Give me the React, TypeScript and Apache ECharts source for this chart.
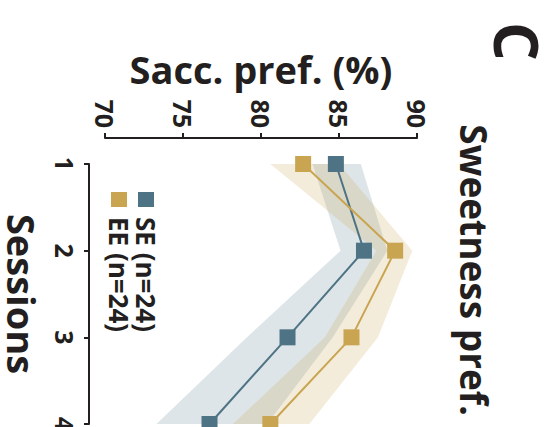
import React, { useEffect, useRef } from "react";
import * as echarts from "echarts";

const sessions = ["1", "2", "3", "4"];
const seMean = [84.8, 86.6, 81.7, 76.7];
const seLower = [83.3, 85.1, 79.1, 73.3];
const seUpper = [86.4, 88.1, 84.6, 80.4];
const eeMean = [82.7, 88.6, 85.8, 80.6];
const eeLower = [80.6, 87.4, 84.1, 78.2];
const eeUpper = [85.0, 89.7, 87.5, 83.1];
const yTicks = [70, 75, 80, 85, 90];
const seName = "SE (n=24)";
const eeName = "EE (n=24)";

const BLUE = "#4d7385";
const GOLD = "#c9a552";
const INK = "#231f20";
const FONT = "Open Sans";

const W = 427;
const H = 558;

export default function App() {
  const ref = useRef<HTMLDivElement>(null);
  useEffect(() => {
    if (!ref.current) return;
    const chart = echarts.init(ref.current, undefined, { renderer: "svg", width: W, height: H });
    const diff = (u: number[], l: number[]) => u.map((v, i) => +(v - l[i]).toFixed(3));
    const bandBase = (stack: string, data: number[]) => ({
      type: "line",
      stack,
      data,
      symbol: "none",
      silent: true,
      lineStyle: { opacity: 0 },
      z: 1,
    });
    const band = (stack: string, data: number[], color: string) => ({
      type: "line",
      stack,
      data,
      symbol: "none",
      silent: true,
      lineStyle: { opacity: 0 },
      areaStyle: { color, opacity: 1 },
      z: 1,
    });
    const legendBase = {
      orient: "vertical",
      left: 187,
      itemWidth: 15,
      itemHeight: 16,
      icon: "rect",
      textStyle: { fontSize: 26, fontWeight: "bold", color: INK, padding: [0, 0, 0, 5], fontFamily: FONT },
    };
    chart.setOption({
      animation: false,
      backgroundColor: "#ffffff",
      textStyle: { fontFamily: FONT },
      grid: { left: 164, right: 3, top: 141, bottom: 105, containLabel: false, outerBoundsMode: "none" },
      xAxis: {
        type: "category",
        data: sessions,
        boundaryGap: false,
        offset: 16,
        name: "Sessions",
        nameLocation: "middle",
        nameGap: 54,
        nameTextStyle: { fontSize: 38, fontWeight: "bold", color: INK, fontFamily: FONT, lineHeight: 26 },
        axisLine: { lineStyle: { color: INK, width: 2 } },
        axisTick: { length: 5, lineStyle: { color: INK, width: 2 } },
        axisLabel: { fontSize: 25, fontWeight: "bold", color: INK, margin: 12, fontFamily: FONT },
        splitLine: { show: false },
      },
      yAxis: {
        type: "value",
        min: yTicks[0],
        max: yTicks[yTicks.length - 1],
        interval: yTicks[1] - yTicks[0],
        offset: 26,
        name: "Sacc. pref. (%)",
        nameLocation: "middle",
        nameRotate: 90,
        nameGap: 50,
        nameTextStyle: { fontSize: 38, fontWeight: "bold", color: INK, fontFamily: FONT },
        axisLine: { show: true, lineStyle: { color: INK, width: 2 } },
        axisTick: { show: true, length: 5, lineStyle: { color: INK, width: 2 } },
        axisLabel: { fontSize: 25, fontWeight: "bold", color: INK, margin: 10, fontFamily: FONT },
        splitLine: { show: false },
      },
      legend: [
        { ...legendBase, top: 394, data: [seName] },
        { ...legendBase, top: 421, data: [eeName] },
      ],
      graphic: [
        {
          type: "text",
          x: 22,
          y: 41,
          style: { text: "C", font: `bold 61px "${FONT}"`, fill: INK, textVerticalAlign: "middle" },
        },
        {
          type: "text",
          x: 270,
          y: 84,
          style: {
            text: "Sweetness pref.",
            font: `bold 37px "${FONT}"`,
            fill: INK,
            textAlign: "center",
            textVerticalAlign: "middle",
          },
        },
      ],
      series: [
        bandBase("seBand", seLower),
        band("seBand", diff(seUpper, seLower), "rgba(77,115,133,0.19)"),
        bandBase("eeBand", eeLower),
        band("eeBand", diff(eeUpper, eeLower), "rgba(201,165,82,0.21)"),
        {
          name: seName,
          type: "line",
          data: seMean,
          symbol: "rect",
          symbolSize: 16,
          clip: false,
          lineStyle: { color: BLUE, width: 2 },
          itemStyle: { color: BLUE },
          z: 5,
        },
        {
          name: eeName,
          type: "line",
          data: eeMean,
          symbol: "rect",
          symbolSize: 16,
          clip: false,
          lineStyle: { color: GOLD, width: 2 },
          itemStyle: { color: GOLD },
          z: 6,
        },
      ],
    });
    return () => chart.dispose();
  }, []);
  return (
    <div style={{ position: "fixed", left: 0, top: 0, width: 558, height: 427, overflow: "hidden", background: "#fff" }}>
      <div
        ref={ref}
        style={{
          position: "absolute",
          left: 0,
          top: 0,
          width: W,
          height: H,
          transformOrigin: "0 0",
          transform: `translate(${H}px, 0px) rotate(90deg)`,
        }}
      />
    </div>
  );
}
